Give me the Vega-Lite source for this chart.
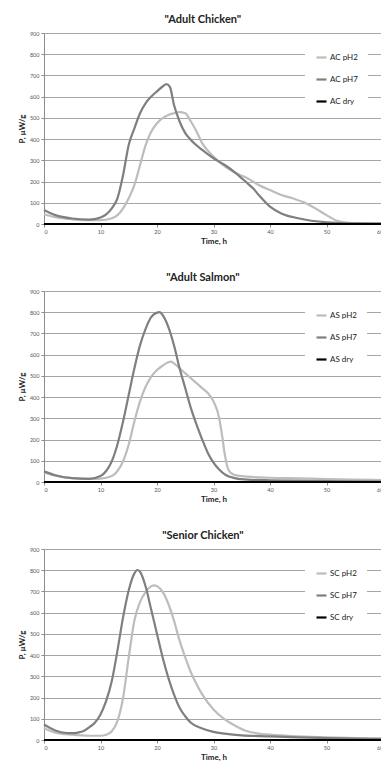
{
  "$schema": "https://vega.github.io/schema/vega-lite/v6.json",
  "padding": {"left": 18, "top": 14, "right": 0, "bottom": 0},
  "background": "white",
  "spacing": 26,
  "datasets": {
    "ac": [
      {"t":0,"P":46,"s":"AC pH2"},{"t":2,"P":32,"s":"AC pH2"},{"t":5,"P":22,"s":"AC pH2"},{"t":8,"P":18,"s":"AC pH2"},{"t":10,"P":18,"s":"AC pH2"},{"t":12,"P":27,"s":"AC pH2"},{"t":13,"P":42,"s":"AC pH2"},{"t":14,"P":74,"s":"AC pH2"},{"t":15,"P":121,"s":"AC pH2"},{"t":16,"P":184,"s":"AC pH2"},{"t":17,"P":278,"s":"AC pH2"},{"t":18,"P":373,"s":"AC pH2"},{"t":19,"P":436,"s":"AC pH2"},{"t":20,"P":475,"s":"AC pH2"},{"t":21,"P":499,"s":"AC pH2"},{"t":22,"P":514,"s":"AC pH2"},{"t":23,"P":522,"s":"AC pH2"},{"t":24,"P":527,"s":"AC pH2"},{"t":25,"P":522,"s":"AC pH2"},{"t":26,"P":483,"s":"AC pH2"},{"t":27,"P":436,"s":"AC pH2"},{"t":28,"P":381,"s":"AC pH2"},{"t":30,"P":318,"s":"AC pH2"},{"t":32,"P":271,"s":"AC pH2"},{"t":34,"P":239,"s":"AC pH2"},{"t":36,"P":216,"s":"AC pH2"},{"t":38,"P":184,"s":"AC pH2"},{"t":40,"P":160,"s":"AC pH2"},{"t":42,"P":137,"s":"AC pH2"},{"t":44,"P":121,"s":"AC pH2"},{"t":46,"P":102,"s":"AC pH2"},{"t":48,"P":74,"s":"AC pH2"},{"t":50,"P":42,"s":"AC pH2"},{"t":52,"P":14,"s":"AC pH2"},{"t":54,"P":6,"s":"AC pH2"},{"t":57,"P":4,"s":"AC pH2"},{"t":60,"P":3,"s":"AC pH2"},
      {"t":0,"P":66,"s":"AC pH7"},{"t":2,"P":42,"s":"AC pH7"},{"t":5,"P":26,"s":"AC pH7"},{"t":8,"P":21,"s":"AC pH7"},{"t":10,"P":31,"s":"AC pH7"},{"t":11,"P":45,"s":"AC pH7"},{"t":12,"P":74,"s":"AC pH7"},{"t":13,"P":121,"s":"AC pH7"},{"t":14,"P":231,"s":"AC pH7"},{"t":15,"P":373,"s":"AC pH7"},{"t":16,"P":451,"s":"AC pH7"},{"t":17,"P":522,"s":"AC pH7"},{"t":18,"P":570,"s":"AC pH7"},{"t":19,"P":601,"s":"AC pH7"},{"t":20,"P":625,"s":"AC pH7"},{"t":21,"P":648,"s":"AC pH7"},{"t":21.7,"P":659,"s":"AC pH7"},{"t":22.3,"P":645,"s":"AC pH7"},{"t":23,"P":562,"s":"AC pH7"},{"t":24,"P":483,"s":"AC pH7"},{"t":25,"P":428,"s":"AC pH7"},{"t":26,"P":396,"s":"AC pH7"},{"t":28,"P":349,"s":"AC pH7"},{"t":30,"P":310,"s":"AC pH7"},{"t":32,"P":278,"s":"AC pH7"},{"t":34,"P":239,"s":"AC pH7"},{"t":36,"P":192,"s":"AC pH7"},{"t":37,"P":168,"s":"AC pH7"},{"t":38,"P":137,"s":"AC pH7"},{"t":40,"P":82,"s":"AC pH7"},{"t":42,"P":50,"s":"AC pH7"},{"t":45,"P":27,"s":"AC pH7"},{"t":50,"P":8,"s":"AC pH7"},{"t":55,"P":3,"s":"AC pH7"},{"t":60,"P":2,"s":"AC pH7"},
      {"t":0,"P":0,"s":"AC dry"},{"t":60,"P":0,"s":"AC dry"}
    ],
    "as": [
      {"t":0,"P":45,"s":"AS pH2"},{"t":2,"P":30,"s":"AS pH2"},{"t":5,"P":18,"s":"AS pH2"},{"t":8,"P":15,"s":"AS pH2"},{"t":10,"P":16,"s":"AS pH2"},{"t":12,"P":28,"s":"AS pH2"},{"t":13,"P":52,"s":"AS pH2"},{"t":14,"P":98,"s":"AS pH2"},{"t":15,"P":177,"s":"AS pH2"},{"t":16,"P":286,"s":"AS pH2"},{"t":17,"P":380,"s":"AS pH2"},{"t":18,"P":450,"s":"AS pH2"},{"t":19,"P":497,"s":"AS pH2"},{"t":20,"P":528,"s":"AS pH2"},{"t":21,"P":548,"s":"AS pH2"},{"t":22,"P":564,"s":"AS pH2"},{"t":22.5,"P":567,"s":"AS pH2"},{"t":23,"P":559,"s":"AS pH2"},{"t":24,"P":536,"s":"AS pH2"},{"t":25,"P":512,"s":"AS pH2"},{"t":26,"P":489,"s":"AS pH2"},{"t":27,"P":466,"s":"AS pH2"},{"t":28,"P":442,"s":"AS pH2"},{"t":29,"P":419,"s":"AS pH2"},{"t":30,"P":380,"s":"AS pH2"},{"t":31,"P":302,"s":"AS pH2"},{"t":31.5,"P":223,"s":"AS pH2"},{"t":32,"P":130,"s":"AS pH2"},{"t":32.5,"P":67,"s":"AS pH2"},{"t":33,"P":44,"s":"AS pH2"},{"t":34,"P":31,"s":"AS pH2"},{"t":36,"P":25,"s":"AS pH2"},{"t":40,"P":20,"s":"AS pH2"},{"t":45,"P":17,"s":"AS pH2"},{"t":50,"P":14,"s":"AS pH2"},{"t":55,"P":11,"s":"AS pH2"},{"t":60,"P":9,"s":"AS pH2"},
      {"t":0,"P":50,"s":"AS pH7"},{"t":2,"P":32,"s":"AS pH7"},{"t":5,"P":18,"s":"AS pH7"},{"t":8,"P":15,"s":"AS pH7"},{"t":10,"P":28,"s":"AS pH7"},{"t":11,"P":52,"s":"AS pH7"},{"t":12,"P":98,"s":"AS pH7"},{"t":13,"P":177,"s":"AS pH7"},{"t":14,"P":286,"s":"AS pH7"},{"t":15,"P":411,"s":"AS pH7"},{"t":16,"P":536,"s":"AS pH7"},{"t":17,"P":645,"s":"AS pH7"},{"t":18,"P":723,"s":"AS pH7"},{"t":19,"P":778,"s":"AS pH7"},{"t":20,"P":798,"s":"AS pH7"},{"t":20.5,"P":800,"s":"AS pH7"},{"t":21,"P":786,"s":"AS pH7"},{"t":22,"P":731,"s":"AS pH7"},{"t":23,"P":645,"s":"AS pH7"},{"t":24,"P":536,"s":"AS pH7"},{"t":25,"P":442,"s":"AS pH7"},{"t":26,"P":348,"s":"AS pH7"},{"t":27,"P":270,"s":"AS pH7"},{"t":28,"P":200,"s":"AS pH7"},{"t":29,"P":137,"s":"AS pH7"},{"t":30,"P":91,"s":"AS pH7"},{"t":31,"P":59,"s":"AS pH7"},{"t":32,"P":36,"s":"AS pH7"},{"t":34,"P":17,"s":"AS pH7"},{"t":36,"P":11,"s":"AS pH7"},{"t":40,"P":8,"s":"AS pH7"},{"t":50,"P":4,"s":"AS pH7"},{"t":60,"P":2,"s":"AS pH7"},
      {"t":0,"P":0,"s":"AS dry"},{"t":60,"P":0,"s":"AS dry"}
    ],
    "sc": [
      {"t":0,"P":57,"s":"SC pH2"},{"t":2,"P":35,"s":"SC pH2"},{"t":5,"P":25,"s":"SC pH2"},{"t":8,"P":20,"s":"SC pH2"},{"t":10,"P":20,"s":"SC pH2"},{"t":11,"P":25,"s":"SC pH2"},{"t":12,"P":41,"s":"SC pH2"},{"t":13,"P":89,"s":"SC pH2"},{"t":14,"P":199,"s":"SC pH2"},{"t":15,"P":389,"s":"SC pH2"},{"t":16,"P":563,"s":"SC pH2"},{"t":17,"P":650,"s":"SC pH2"},{"t":18,"P":698,"s":"SC pH2"},{"t":19,"P":725,"s":"SC pH2"},{"t":19.5,"P":729,"s":"SC pH2"},{"t":20,"P":725,"s":"SC pH2"},{"t":21,"P":698,"s":"SC pH2"},{"t":22,"P":642,"s":"SC pH2"},{"t":23,"P":563,"s":"SC pH2"},{"t":24,"P":468,"s":"SC pH2"},{"t":25,"P":389,"s":"SC pH2"},{"t":26,"P":318,"s":"SC pH2"},{"t":27,"P":263,"s":"SC pH2"},{"t":28,"P":215,"s":"SC pH2"},{"t":30,"P":144,"s":"SC pH2"},{"t":32,"P":97,"s":"SC pH2"},{"t":34,"P":65,"s":"SC pH2"},{"t":36,"P":41,"s":"SC pH2"},{"t":38,"P":30,"s":"SC pH2"},{"t":40,"P":25,"s":"SC pH2"},{"t":45,"P":17,"s":"SC pH2"},{"t":50,"P":12,"s":"SC pH2"},{"t":55,"P":9,"s":"SC pH2"},{"t":60,"P":7,"s":"SC pH2"},
      {"t":0,"P":73,"s":"SC pH7"},{"t":2,"P":45,"s":"SC pH7"},{"t":4,"P":33,"s":"SC pH7"},{"t":5,"P":32,"s":"SC pH7"},{"t":6,"P":35,"s":"SC pH7"},{"t":7,"P":42,"s":"SC pH7"},{"t":8,"P":60,"s":"SC pH7"},{"t":9,"P":81,"s":"SC pH7"},{"t":10,"P":120,"s":"SC pH7"},{"t":11,"P":184,"s":"SC pH7"},{"t":12,"P":278,"s":"SC pH7"},{"t":13,"P":421,"s":"SC pH7"},{"t":14,"P":579,"s":"SC pH7"},{"t":15,"P":706,"s":"SC pH7"},{"t":16,"P":785,"s":"SC pH7"},{"t":16.5,"P":801,"s":"SC pH7"},{"t":17,"P":793,"s":"SC pH7"},{"t":18,"P":722,"s":"SC pH7"},{"t":19,"P":611,"s":"SC pH7"},{"t":20,"P":500,"s":"SC pH7"},{"t":21,"P":389,"s":"SC pH7"},{"t":22,"P":294,"s":"SC pH7"},{"t":23,"P":215,"s":"SC pH7"},{"t":24,"P":152,"s":"SC pH7"},{"t":25,"P":112,"s":"SC pH7"},{"t":26,"P":81,"s":"SC pH7"},{"t":28,"P":54,"s":"SC pH7"},{"t":30,"P":38,"s":"SC pH7"},{"t":32,"P":30,"s":"SC pH7"},{"t":35,"P":22,"s":"SC pH7"},{"t":40,"P":17,"s":"SC pH7"},{"t":45,"P":12,"s":"SC pH7"},{"t":50,"P":9,"s":"SC pH7"},{"t":55,"P":7,"s":"SC pH7"},{"t":60,"P":5,"s":"SC pH7"},
      {"t":0,"P":0,"s":"SC dry"},{"t":60,"P":0,"s":"SC dry"}
    ]
  },
  "config": {
    "font": "Lato",
    "view": {"stroke": null},
    "title": {"fontSize": 11, "fontWeight": "bold", "color": "#222222", "font": "Lato", "frame": "bounds", "anchor": "middle", "offset": 6},
    "axis": {
      "labelFontSize": 5.5, "labelColor": "#555555", "labelFont": "Lato",
      "titleFontSize": 8, "titleFontWeight": "bold", "titleColor": "#222222", "titleFont": "Lato",
      "domainColor": "#8c8c8c", "tickColor": "#8c8c8c", "tickSize": 3
    },
    "legend": {
      "orient": "none", "legendX": 261, "legendY": 8,
      "fillColor": "white", "padding": 10,
      "symbolType": "stroke", "symbolSize": 100, "symbolStrokeWidth": 2.2,
      "labelFontSize": 8, "labelFont": "Lato", "labelColor": "#222222",
      "rowPadding": 11, "labelOffset": 2
    }
  },
  "resolve": {"scale": {"color": "independent"}},
  "vconcat": [
    {
      "title": "\"Adult Chicken\"",
      "width": 339, "height": 191,
      "data": {"name": "ac"},
      "mark": {"type": "line", "interpolate": "monotone", "strokeWidth": 2.2},
      "encoding": {
        "x": {"field": "t", "type": "quantitative", "scale": {"domain": [0, 60], "nice": false}, "axis": {"values": [0,10,20,30,40,50,60], "title": "Time, h", "grid": false, "labelPadding": 2, "titlePadding": 3}},
        "y": {"field": "P", "type": "quantitative", "scale": {"domain": [0, 900], "nice": false}, "axis": {"values": [0,100,200,300,400,500,600,700,800,900], "title": "P, µW/g", "gridColor": "#a6a6a6", "labelPadding": 2, "titlePadding": 3}},
        "color": {"field": "s", "type": "nominal", "scale": {"domain": ["AC pH2", "AC pH7", "AC dry"], "range": ["#bdbdbd", "#7f7f7f", "#000000"]}, "legend": {"title": null}}
      }
    },
    {
      "title": "\"Adult Salmon\"",
      "width": 339, "height": 191,
      "data": {"name": "as"},
      "mark": {"type": "line", "interpolate": "monotone", "strokeWidth": 2.2},
      "encoding": {
        "x": {"field": "t", "type": "quantitative", "scale": {"domain": [0, 60], "nice": false}, "axis": {"values": [0,10,20,30,40,50,60], "title": "Time, h", "grid": false, "labelPadding": 2, "titlePadding": 3}},
        "y": {"field": "P", "type": "quantitative", "scale": {"domain": [0, 900], "nice": false}, "axis": {"values": [0,100,200,300,400,500,600,700,800,900], "title": "P, µW/g", "gridColor": "#a6a6a6", "labelPadding": 2, "titlePadding": 3}},
        "color": {"field": "s", "type": "nominal", "scale": {"domain": ["AS pH2", "AS pH7", "AS dry"], "range": ["#bdbdbd", "#7f7f7f", "#000000"]}, "legend": {"title": null}}
      }
    },
    {
      "title": "\"Senior Chicken\"",
      "width": 339, "height": 191,
      "data": {"name": "sc"},
      "mark": {"type": "line", "interpolate": "monotone", "strokeWidth": 2.2},
      "encoding": {
        "x": {"field": "t", "type": "quantitative", "scale": {"domain": [0, 60], "nice": false}, "axis": {"values": [0,10,20,30,40,50,60], "title": "Time, h", "grid": false, "labelPadding": 2, "titlePadding": 3}},
        "y": {"field": "P", "type": "quantitative", "scale": {"domain": [0, 900], "nice": false}, "axis": {"values": [0,100,200,300,400,500,600,700,800,900], "title": "P, µW/g", "gridColor": "#a6a6a6", "labelPadding": 2, "titlePadding": 3}},
        "color": {"field": "s", "type": "nominal", "scale": {"domain": ["SC pH2", "SC pH7", "SC dry"], "range": ["#bdbdbd", "#7f7f7f", "#000000"]}, "legend": {"title": null}}
      }
    }
  ]
}
